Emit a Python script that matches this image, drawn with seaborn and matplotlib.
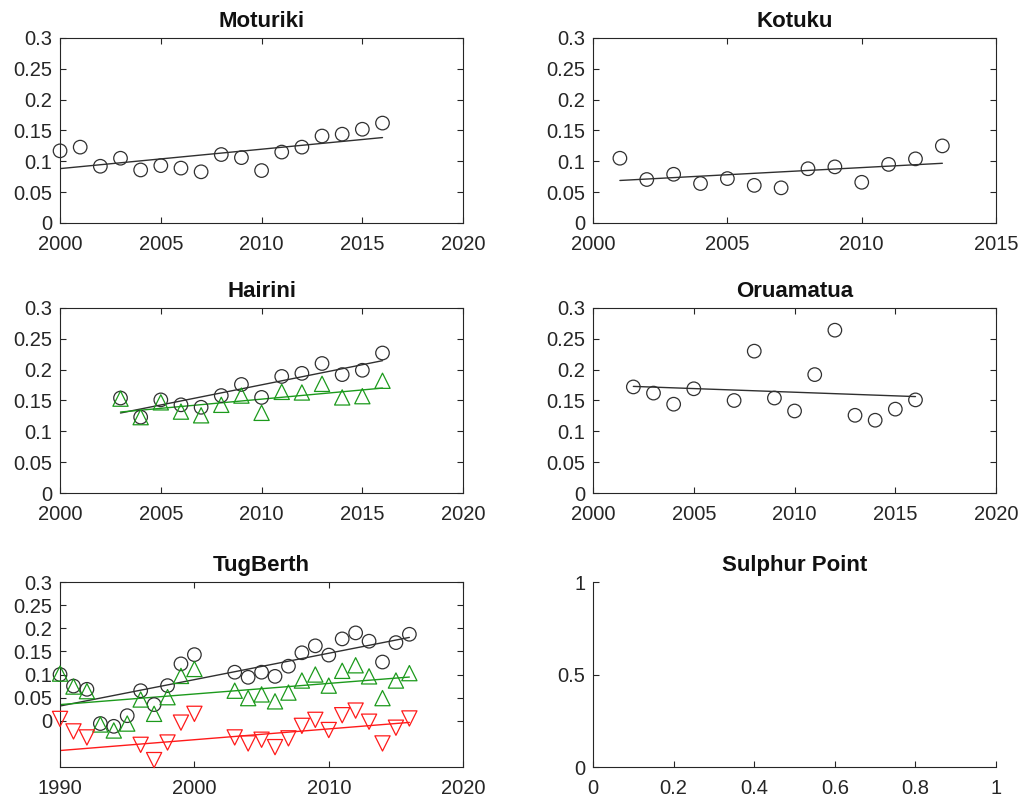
import numpy as np
import pandas as pd
import matplotlib
matplotlib.use("Agg")
import matplotlib.pyplot as plt
from matplotlib.ticker import FuncFormatter
import seaborn as sns

# ---- data -------------------------------------------------------------
moturiki_years = list(range(2000, 2017))
moturiki_vals = [0.117, 0.123, 0.092, 0.105, 0.086, 0.093, 0.089, 0.083, 0.111,
                 0.106, 0.085, 0.115, 0.123, 0.141, 0.144, 0.152, 0.162]

kotuku_years = list(range(2001, 2014))
kotuku_vals = [0.105, 0.0705, 0.079, 0.064, 0.072, 0.061, 0.057, 0.088, 0.091,
               0.066, 0.095, 0.104, 0.125]

hairini_years = list(range(2003, 2017))
hairini_black = [0.154, 0.123, 0.151, 0.143, 0.139, 0.158, 0.176, 0.155, 0.189,
                 0.194, 0.210, 0.192, 0.199, 0.227]
hairini_green = [0.153, 0.123, 0.147, 0.132, 0.126, 0.143, 0.158, 0.130, 0.164,
                 0.163, 0.177, 0.155, 0.157, 0.182]

oruamatua_years = [2002, 2003, 2004, 2005, 2007, 2008, 2009, 2010, 2011, 2012,
                   2013, 2014, 2015, 2016]
oruamatua_vals = [0.172, 0.162, 0.144, 0.169, 0.150, 0.230, 0.154, 0.133, 0.192,
                  0.264, 0.126, 0.118, 0.136, 0.151]

tug_years = [1990, 1991, 1992, 1993, 1994, 1995, 1996, 1997, 1998, 1999, 2000,
             2003, 2004, 2005, 2006, 2007, 2008, 2009, 2010, 2011, 2012, 2013,
             2014, 2015, 2016]
tug_black = [0.100, 0.075, 0.068, -0.006, -0.012, 0.011, 0.065, 0.035, 0.076,
             0.123, 0.143, 0.105, 0.094, 0.105, 0.096, 0.118, 0.147, 0.162,
             0.142, 0.177, 0.190, 0.172, 0.127, 0.169, 0.187]
tug_green = [0.102, 0.074, 0.064, -0.008, -0.021, -0.006, 0.046, 0.015, 0.051,
             0.097, 0.112, 0.065, 0.049, 0.057, 0.042, 0.061, 0.087, 0.100,
             0.076, 0.108, 0.120, 0.096, 0.049, 0.087, 0.103]
# 1993-1995 fall below the plotted range (-0.1) and are not shown as markers
tug_red = [0.004, -0.023, -0.036, -0.112, -0.120, -0.104, -0.052, -0.085,
           -0.047, -0.004, 0.015, -0.036, -0.049, -0.041, -0.057, -0.038,
           -0.011, 0.002, -0.020, 0.012, 0.022, -0.002, -0.049, -0.015, 0.005]

titles = ["Moturiki", "Kotuku", "Hairini", "Oruamatua", "TugBerth", "Sulphur Point"]

# ---- style ------------------------------------------------------------
sns.set_style("ticks")
plt.rcParams["font.family"] = ["Liberation Sans", "DejaVu Sans"]
plt.rcParams.update({
    "axes.edgecolor": "#262626",
    "axes.linewidth": 0.8,
    "xtick.color": "#262626",
    "ytick.color": "#262626",
    "xtick.labelcolor": "#262626",
    "ytick.labelcolor": "#262626",
    "xtick.direction": "in",
    "ytick.direction": "in",
    "xtick.major.size": 4,
    "ytick.major.size": 4,
    "xtick.major.width": 0.8,
    "ytick.major.width": 0.8,
    "xtick.labelsize": 14.5,
    "ytick.labelsize": 14.5,
    "xtick.major.pad": 8.5,
    "ytick.major.pad": 5.5,
})

BLACK = "#303030"
GREEN = "#1c9a1c"
RED = "#ff1a1a"
TITLE_KW = dict(fontsize=16, fontweight="bold", pad=8, color="#111111")

fig = plt.figure(figsize=(10.23, 8.01), dpi=100)
lefts = [0.0587, 0.5797]
bottoms = [0.7216, 0.3845, 0.0424]
w, h = 0.394, 0.231
axes = [fig.add_axes([lefts[c], bottoms[r], w, h]) for r in range(3) for c in range(2)]

gfmt = FuncFormatter(lambda v, p: f"{v:g}")


def series(ax, xs, ys, color, marker, size, ylim):
    df = pd.DataFrame({"year": xs, "val": ys})
    # values outside the y range are left out of the markers but kept in the fit
    shown = df[(df["val"] >= ylim[0]) & (df["val"] <= ylim[1])]
    sns.scatterplot(data=shown, x="year", y="val", ax=ax, marker=marker, s=size,
                    facecolor="none", edgecolor=color, linewidth=0.9,
                    zorder=3, clip_on=False)
    sns.regplot(data=df, x="year", y="val", ax=ax, scatter=False, ci=None,
                truncate=True, line_kws=dict(color=color, lw=1.0))


def boxed(ax, title, xlim, xticks, ylim, yticks):
    ax.set_xlim(*xlim)
    ax.set_ylim(*ylim)
    ax.set_xticks(xticks)
    ax.set_yticks(yticks)
    ax.xaxis.set_major_formatter(gfmt)
    ax.yaxis.set_major_formatter(gfmt)
    ax.tick_params(top=True, right=True, labeltop=False, labelright=False)
    for s in ax.spines.values():
        s.set_visible(True)
    ax.set_xlabel("")
    ax.set_ylabel("")
    ax.set_title(title, **TITLE_KW)


y03 = [0, 0.05, 0.1, 0.15, 0.2, 0.25, 0.3]
yr = (0, 0.3)

ax = axes[0]
series(ax, moturiki_years, moturiki_vals, BLACK, "o", 95, yr)
boxed(ax, titles[0], (2000, 2020), [2000, 2005, 2010, 2015, 2020], yr, y03)

ax = axes[1]
series(ax, kotuku_years, kotuku_vals, BLACK, "o", 95, yr)
boxed(ax, titles[1], (2000, 2015), [2000, 2005, 2010, 2015], yr, y03)

ax = axes[2]
series(ax, hairini_years, hairini_black, BLACK, "o", 95, yr)
series(ax, hairini_years, hairini_green, GREEN, "^", 120, yr)
boxed(ax, titles[2], (2000, 2020), [2000, 2005, 2010, 2015, 2020], yr, y03)

ax = axes[3]
series(ax, oruamatua_years, oruamatua_vals, BLACK, "o", 95, yr)
boxed(ax, titles[3], (2000, 2020), [2000, 2005, 2010, 2015, 2020], yr, y03)

ax = axes[4]
tr = (-0.1, 0.3)
series(ax, tug_years, tug_black, BLACK, "o", 95, tr)
series(ax, tug_years, tug_green, GREEN, "^", 120, tr)
series(ax, tug_years, tug_red, RED, "v", 120, tr)
boxed(ax, titles[4], (1990, 2020), [1990, 2000, 2010, 2020], tr, y03)

ax = axes[5]
ax.set_xlim(0, 1)
ax.set_ylim(0, 1)
ax.set_xticks([0, 0.2, 0.4, 0.6, 0.8, 1])
ax.set_yticks([0, 0.5, 1])
ax.xaxis.set_major_formatter(gfmt)
ax.yaxis.set_major_formatter(gfmt)
ax.spines["top"].set_visible(False)
ax.spines["right"].set_visible(False)
ax.set_title(titles[5], **TITLE_KW)

fig.savefig("out.png", dpi=100)
